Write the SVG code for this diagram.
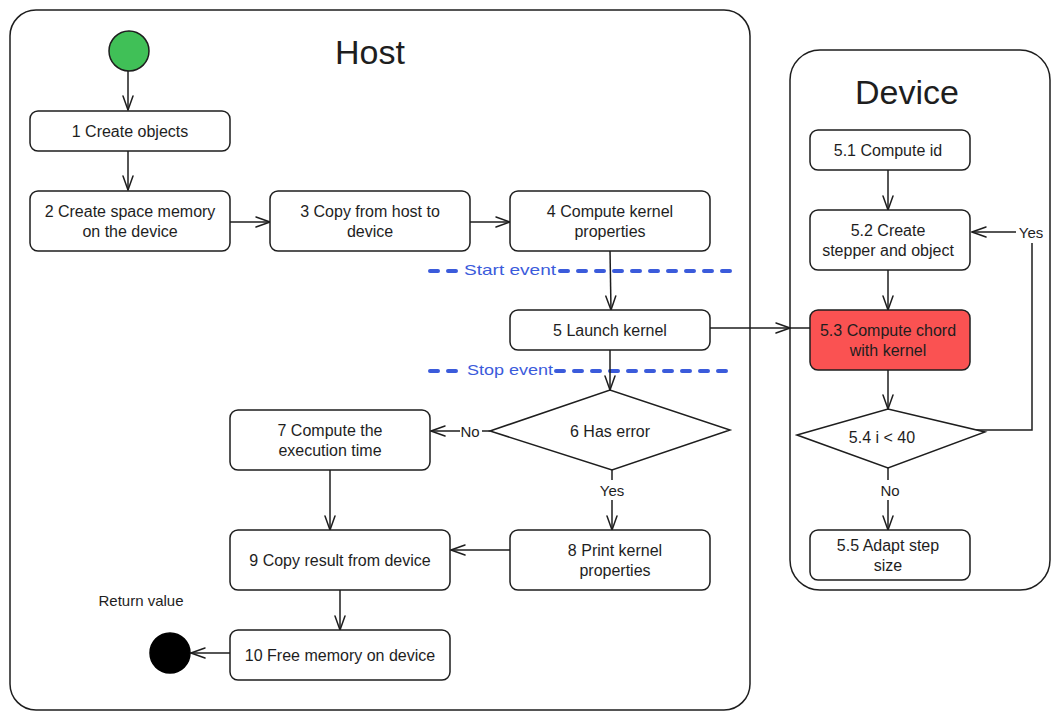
<svg xmlns="http://www.w3.org/2000/svg" width="1060" height="720" viewBox="0 0 1060 720">
<defs>
<marker id="arr" viewBox="0 0 16 12" refX="15" refY="6" markerWidth="16" markerHeight="12" markerUnits="userSpaceOnUse" orient="auto">
<path d="M1,1 L15,6 L1,11" fill="none" stroke="#1e1e1e" stroke-width="1.5" stroke-linecap="round"/>
</marker>
<style>
.box{fill:#fff;stroke:#1e1e1e;stroke-width:1.5}
.cont{fill:#fff;stroke:#1e1e1e;stroke-width:1.5}
.t{font-family:"Liberation Sans",Arial,sans-serif;font-size:16px;fill:#1e1e1e;text-anchor:middle;dominant-baseline:central}
.title{font-family:"Liberation Sans",Arial,sans-serif;font-size:34px;fill:#1e1e1e;text-anchor:middle;dominant-baseline:central}
.lbl{font-family:"Liberation Sans",Arial,sans-serif;font-size:15px;fill:#1e1e1e;text-anchor:middle;dominant-baseline:central}
.ev{font-family:"Liberation Sans",Arial,sans-serif;font-size:15px;fill:#3b5bdb;text-anchor:middle;dominant-baseline:central}
.c{fill:none;stroke:#1e1e1e;stroke-width:1.5}
.ca{fill:none;stroke:#1e1e1e;stroke-width:1.5;marker-end:url(#arr)}
.dash{fill:none;stroke:#3b5bdb;stroke-width:4;stroke-dasharray:8 10;stroke-linecap:round}
</style>
</defs>

<g id="host">
<rect class="cont" x="10" y="10" width="740" height="700" rx="26"/>
<text class="title" x="370" y="52">Host</text>
</g>
<g id="device">
<rect class="cont" x="790" y="50" width="260" height="540" rx="30"/>
<text class="title" x="907" y="92">Device</text>
</g>

<g id="events">
<path class="dash" d="M430,271 L460,271"/>
<path class="dash" d="M560,271 L732,271"/>
<text class="ev" x="510" y="269" textLength="92" lengthAdjust="spacingAndGlyphs">Start event</text>
<path class="dash" d="M430,371 L462,371"/>
<path class="dash" d="M556,371 L732,371"/>
<text class="ev" x="510" y="369" textLength="86" lengthAdjust="spacingAndGlyphs">Stop event</text>
</g>

<g id="connectors">
<path class="ca" d="M128,70 L128,110"/>
<path class="ca" d="M128,150 L128,190"/>
<path class="ca" d="M230,222 L270,222"/>
<path class="ca" d="M470,222 L510,222"/>
<path class="ca" d="M610,250 L611,310"/>
<path class="ca" d="M610,350 L610,390"/>
<path class="c" d="M710,328 L790,328 L810,328" marker-mid="url(#arr)"/>
<path class="c" d="M490,431 L482,431"/>
<path class="ca" d="M460,431 L431,431"/>
<path class="c" d="M612,470 L612,480"/>
<path class="ca" d="M612,500 L612,530"/>
<path class="ca" d="M330,470 L330,530"/>
<path class="ca" d="M510,550 L451,550"/>
<path class="ca" d="M340,590 L340,630"/>
<path class="ca" d="M230,653 L191,653"/>
<path class="ca" d="M888,170 L888,210"/>
<path class="ca" d="M888,270 L888,310"/>
<path class="ca" d="M888,370 L888,409"/>
<path class="c" d="M970,430 L1032,430 L1032,243"/>
<path class="ca" d="M1016,232 L972,232"/>
<path class="c" d="M888,468 L888,480"/>
<path class="ca" d="M888,500 L888,530"/>
</g>

<g id="start"><circle cx="129" cy="51" r="20" fill="#40c057" stroke="#1e1e1e" stroke-width="1.5"/></g>
<g id="end"><circle cx="170" cy="653" r="20" fill="#000" stroke="#000" stroke-width="1.5"/></g>
<g id="return-label"><text class="lbl" x="141" y="600">Return value</text></g>

<g id="n1"><rect class="box" x="30" y="111" width="200" height="40" rx="8"/><text class="t" x="130" y="131">1 Create objects</text></g>
<g id="n2"><rect class="box" x="30" y="191" width="200" height="60" rx="8"/><text class="t" x="130" y="211">2 Create space memory</text><text class="t" x="130" y="231">on the device</text></g>
<g id="n3"><rect class="box" x="270" y="191" width="200" height="60" rx="8"/><text class="t" x="370" y="211">3 Copy from host to</text><text class="t" x="370" y="231">device</text></g>
<g id="n4"><rect class="box" x="510" y="191" width="200" height="60" rx="8"/><text class="t" x="610" y="211">4 Compute kernel</text><text class="t" x="610" y="231">properties</text></g>
<g id="n5"><rect class="box" x="510" y="310" width="200" height="40" rx="8"/><text class="t" x="610" y="330">5 Launch kernel</text></g>
<g id="n6"><path class="box" d="M490,431 L610,390 L730,430 L612,470 Z"/><text class="t" x="610" y="431">6 Has error</text></g>
<g id="n6-no"><text class="lbl" x="470" y="431">No</text></g>
<g id="n6-yes"><text class="lbl" x="612" y="490">Yes</text></g>
<g id="n7"><rect class="box" x="230" y="410" width="200" height="60" rx="8"/><text class="t" x="330" y="430">7 Compute the</text><text class="t" x="330" y="450">execution time</text></g>
<g id="n8"><rect class="box" x="510" y="530" width="200" height="60" rx="8"/><text class="t" x="615" y="550">8 Print kernel</text><text class="t" x="615" y="570">properties</text></g>
<g id="n9"><rect class="box" x="230" y="530" width="220" height="60" rx="8"/><text class="t" x="340" y="560">9 Copy result from device</text></g>
<g id="n10"><rect class="box" x="230" y="630" width="220" height="50" rx="8"/><text class="t" x="340" y="655">10 Free memory on device</text></g>

<g id="n51"><rect class="box" x="810" y="130" width="160" height="40" rx="8"/><text class="t" x="888" y="150">5.1 Compute id</text></g>
<g id="n52"><rect class="box" x="810" y="210" width="160" height="60" rx="8"/><text class="t" x="888" y="230">5.2 Create</text><text class="t" x="888" y="250">stepper and object</text></g>
<g id="n53"><rect x="810" y="310" width="160" height="60" rx="8" fill="#fa5252" stroke="#1e1e1e" stroke-width="1.5"/><text class="t" x="888" y="330">5.3 Compute chord</text><text class="t" x="888" y="350">with kernel</text></g>
<g id="n54"><path class="box" d="M797,435 L888,409 L985,432 L888,468 Z"/><text class="t" x="882" y="437">5.4 i &lt; 40</text></g>
<g id="n54-yes"><text class="lbl" x="1031" y="232">Yes</text></g>
<g id="n54-no"><text class="lbl" x="890" y="490">No</text></g>
<g id="n55"><rect class="box" x="810" y="530" width="160" height="50" rx="8"/><text class="t" x="888" y="545">5.5 Adapt step</text><text class="t" x="888" y="565">size</text></g>
</svg>
